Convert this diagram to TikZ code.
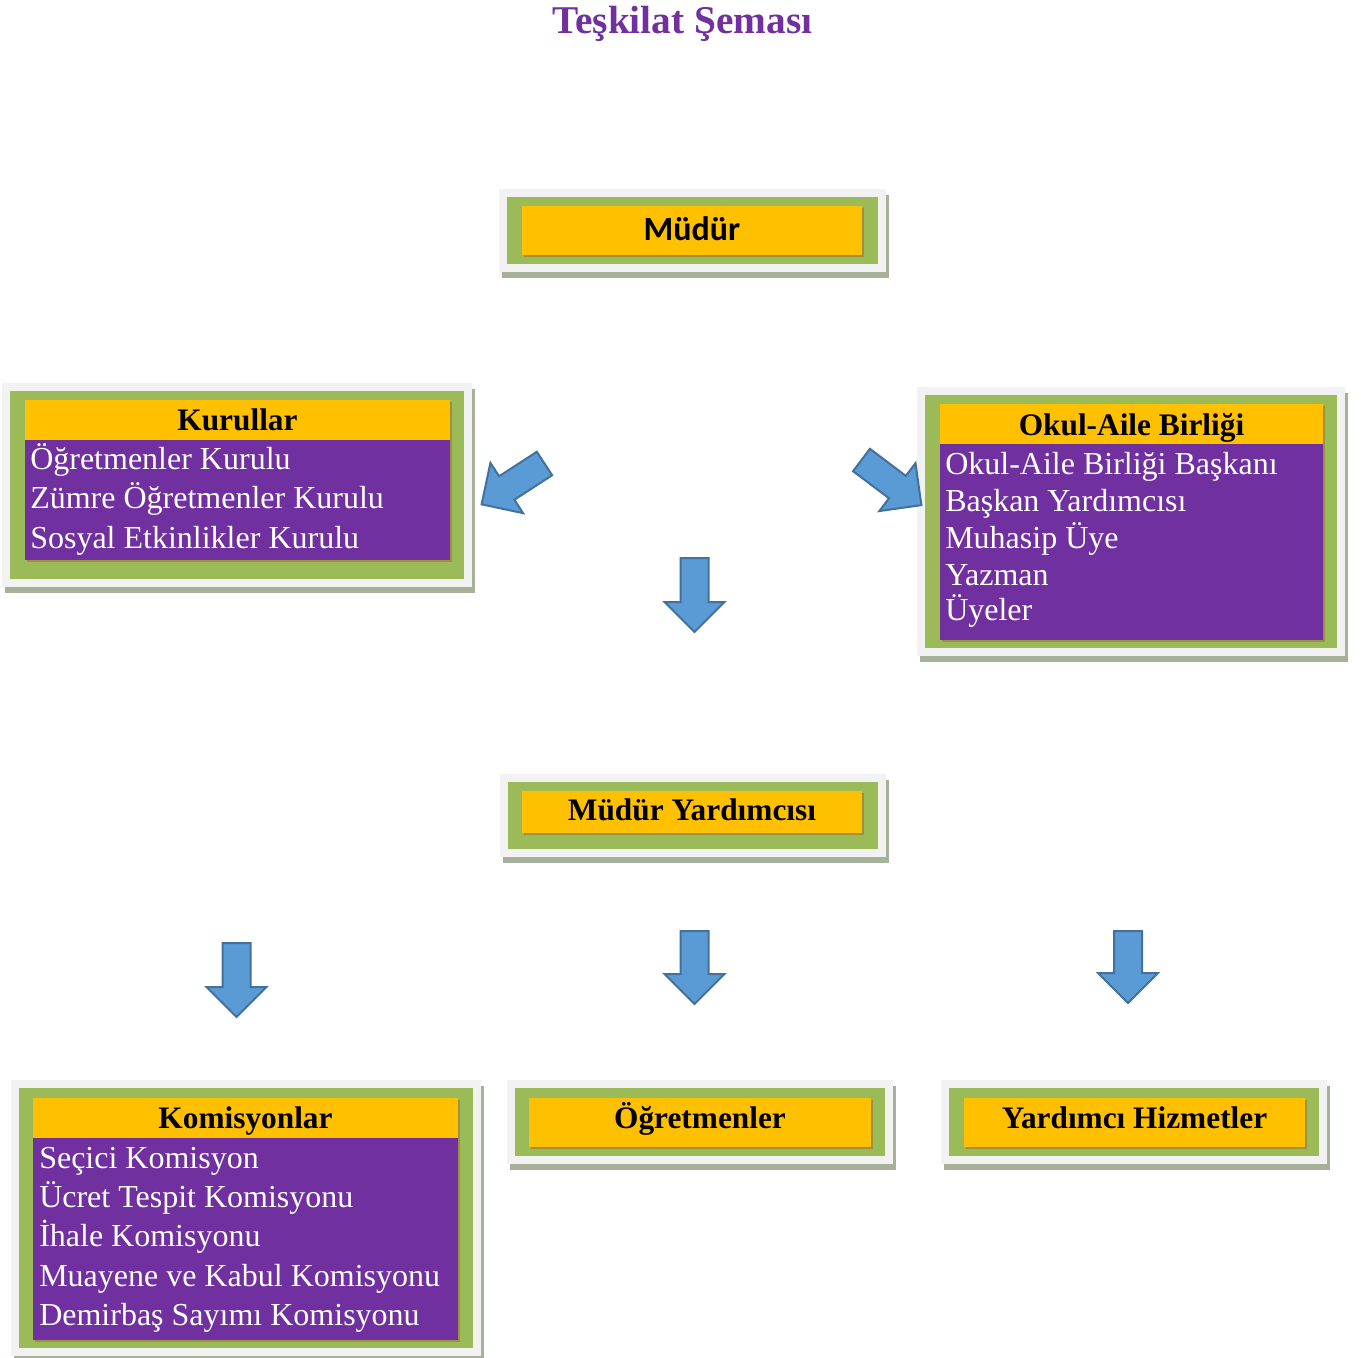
\documentclass[tikz,border=0pt]{standalone}
\usepackage{fontspec}
\setmainfont{Liberation Serif}
\newfontfamily\calibrifont{Carlito}
\definecolor{purp}{HTML}{7030A0}
\definecolor{gold}{HTML}{FFC000}
\definecolor{grn}{HTML}{9BBB59}
\definecolor{lgray}{HTML}{F2F2F2}
\definecolor{shad}{HTML}{A7B199}
\definecolor{goldsh}{HTML}{9C8F47}
\definecolor{arrfill}{HTML}{5B9BD5}
\definecolor{arrline}{HTML}{41719C}
\newcommand\orgbox[4]{%
  \fill[shad] (#1-5,#2-2) rectangle (#3+11,#4+14);
  \fill[lgray] (#1-8,#2-8) rectangle (#3+8,#4+8);
  \fill[grn] (#1,#2) rectangle (#3,#4);}
\newcommand\goldbar[4]{%
  \fill[goldsh] (#1+2,#2+2) rectangle (#3+2,#4+2);
  \fill[gold] (#1,#2) rectangle (#3,#4);}
\newcommand\purpbar[4]{%
  \fill[goldsh] (#1+2,#2+2) rectangle (#3+2,#4+2);
  \fill[purp] (#1,#2) rectangle (#3,#4);}
\tikzset{
  hdr/.style={font=\fontsize{23.5}{28}\selectfont\bfseries, text=black, inner sep=0, anchor=base},
  bodytxt/.style={font=\fontsize{24}{29}\selectfont, text=white, inner sep=0, anchor=base west},
  pics/barrow/.style={code={
    \filldraw[fill=arrfill, draw=arrline, line width=1.5pt, line join=miter]
      (0,-14) -- (#1-30,-14) -- (#1-30,-30) -- (#1,0) -- (#1-30,30) -- (#1-30,14) -- (0,14) -- cycle;
  }}
}
\begin{document}
\begin{tikzpicture}[x=0.75pt,y=-0.75pt]
\useasboundingbox[fill=white] (0,0) rectangle (1364,1357);

% title
\node[inner sep=0, anchor=base, text=purp, font=\fontsize{29.5}{34}\selectfont\bfseries] (title) at (682.5,33) {Teşkilat Şeması};

% Müdür
\orgbox{507}{197}{878}{264}
\goldbar{522}{206}{862}{255}
\node[inner sep=0, anchor=base, font=\fontsize{25.5}{30}\selectfont\calibrifont\bfseries] (mudur) at (692,240) {Müdür};

% Kurullar
\orgbox{10}{391}{464}{579}
\goldbar{25}{400}{450}{440}
\purpbar{25}{440}{450}{560}
\fill[gold] (25,400) rectangle (450,440);
\node[hdr] (kurullar) at (237.5,430) {Kurullar};
\node[bodytxt] (k1) at (30,469) {Öğretmenler Kurulu};
\node[bodytxt] (k2) at (30,508) {Zümre Öğretmenler Kurulu};
\node[bodytxt] (k3) at (30,548) {Sosyal Etkinlikler Kurulu};

% Okul-Aile Birliği
\orgbox{925}{395}{1337}{648}
\goldbar{940}{404}{1323}{444}
\purpbar{940}{444}{1323}{640}
\fill[gold] (940,404) rectangle (1323,444);
\node[hdr] (okul) at (1131.5,435) {Okul-Aile Birliği};
\node[bodytxt] (o1) at (945,474) {Okul-Aile Birliği Başkanı};
\node[bodytxt] (o2) at (945,511) {Başkan Yardımcısı};
\node[bodytxt] (o3) at (945,548) {Muhasip Üye};
\node[bodytxt] (o4) at (945,585) {Yazman};
\node[bodytxt] (o5) at (945,620) {Üyeler};

% Müdür Yardımcısı
\orgbox{508}{782}{878}{849}
\goldbar{522}{791}{862}{833}
\node[hdr] (my) at (692,820) {Müdür Yardımcısı};

% Komisyonlar
\orgbox{19}{1088}{473}{1348}
\goldbar{33}{1098}{458}{1138}
\purpbar{33}{1138}{458}{1340}
\fill[gold] (33,1098) rectangle (458,1138);
\node[hdr] (kom) at (245.5,1128) {Komisyonlar};
\node[bodytxt] (c1) at (39,1168) {Seçici Komisyon};
\node[bodytxt] (c2) at (39,1207) {Ücret Tespit Komisyonu};
\node[bodytxt] (c3) at (39,1246) {İhale Komisyonu};
\node[bodytxt] (c4) at (39,1286) {Muayene ve Kabul Komisyonu};
\node[bodytxt] (c5) at (39,1325) {Demirbaş Sayımı Komisyonu};

% Öğretmenler
\orgbox{515}{1088}{885}{1156}
\goldbar{529}{1098}{871}{1147}
\node[hdr] (ogr) at (700,1128) {Öğretmenler};

% Yardımcı Hizmetler
\orgbox{949}{1088}{1319}{1156}
\goldbar{964}{1098}{1305}{1147}
\node[hdr] (yh) at (1134.5,1128) {Yardımcı Hizmetler};

% block arrows
\pic[rotate=213] (aleft) at (544.5,463.5) {barrow=75};
\pic[rotate=-37] (aright) at (861.5,460) {barrow=75};
\pic[rotate=-90] (adown) at (694.5,558) {barrow=74};
\pic[rotate=-90] (ab1) at (236.5,943) {barrow=74};
\pic[rotate=-90] (ab2) at (694.5,931) {barrow=73};
\pic[rotate=-90] (ab3) at (1128,931) {barrow=72};
\end{tikzpicture}
\end{document}
